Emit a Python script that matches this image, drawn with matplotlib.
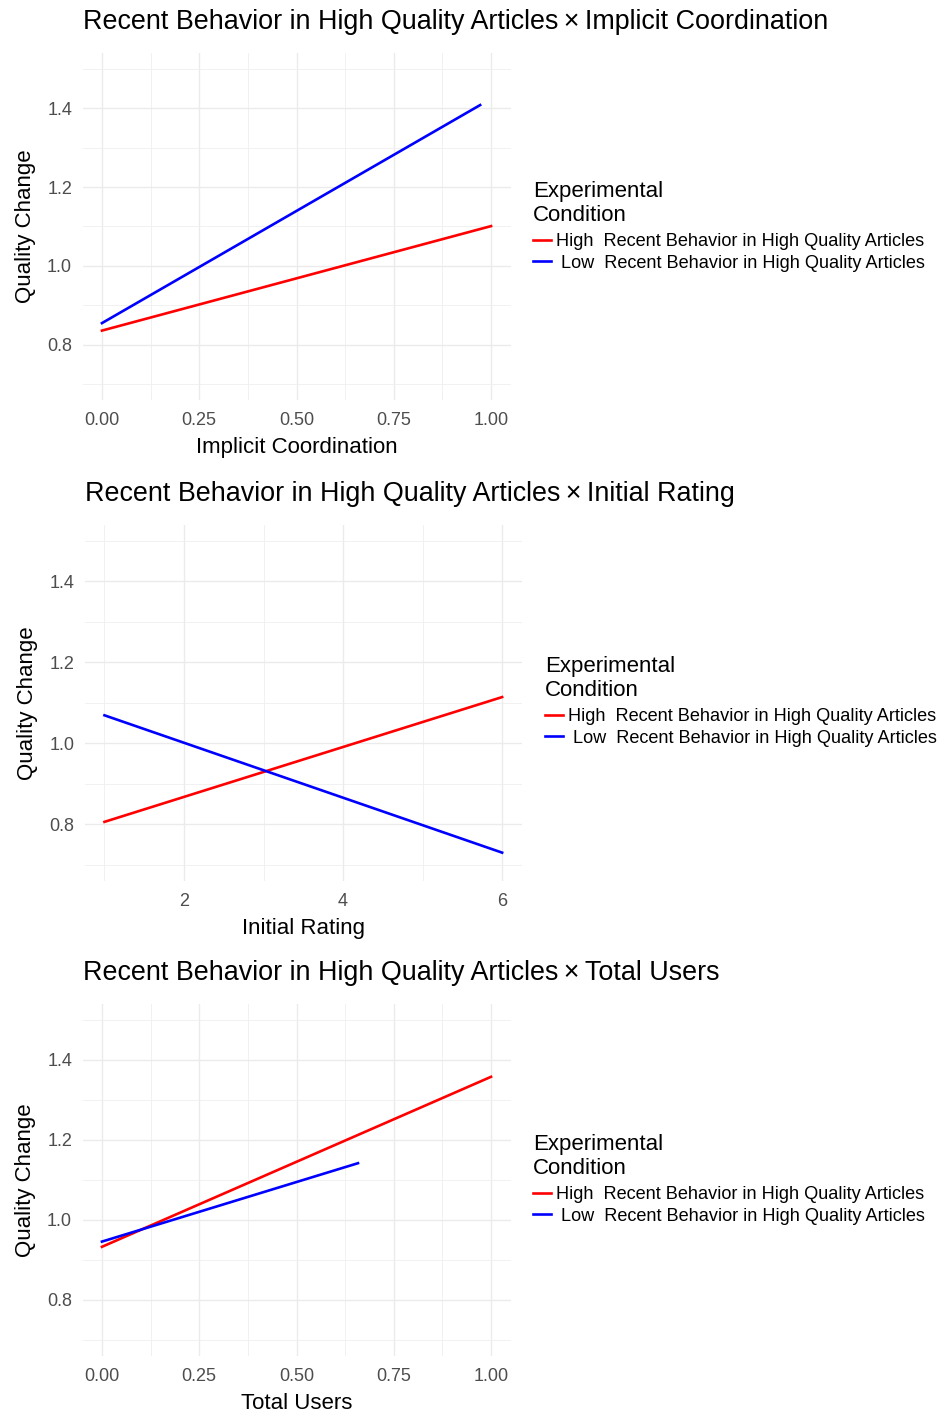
import matplotlib
matplotlib.use("Agg")
import matplotlib.pyplot as plt
from matplotlib.ticker import MultipleLocator

plt.rcParams['font.family'] = ['Liberation Sans', 'DejaVu Sans']

# predicted lines (two end points each)
impl_x_high = [0.0, 1.0]
impl_y_high = [0.836, 1.101]
impl_x_low = [0.0, 0.972]
impl_y_low = [0.855, 1.408]

rating_x_high = [1, 6]
rating_y_high = [0.806, 1.114]
rating_x_low = [1, 6]
rating_y_low = [1.069, 0.730]

users_x_high = [0.0, 1.0]
users_y_high = [0.933, 1.358]
users_x_low = [0.0, 0.658]
users_y_low = [0.946, 1.142]

moderator = ["Implicit Coordination", "Initial Rating", "Total Users"]
cond_labels = ["High  Recent Behavior in High Quality Articles",
               " Low  Recent Behavior in High Quality Articles"]
cond_colors = ["#FF0000", "#0000FF"]
y_ticks = [0.8, 1.0, 1.2, 1.4]
x_ticks_unit = [0.0, 0.25, 0.5, 0.75, 1.0]
x_ticks_rating = [2, 4, 6]

W, H = 947, 1414
fig = plt.figure(figsize=(W / 100, H / 100), dpi=100)


def add_panel(left, right, top, bottom):
    return fig.add_axes([left / W, 1 - bottom / H, (right - left) / W, (bottom - top) / H])


def style(ax, xticks, xfmt, xminor, title, xlabel, legend_xy):
    ax.set_ylim(0.66, 1.54)
    ax.set_yticks(y_ticks)
    ax.set_yticklabels(["%.1f" % v for v in y_ticks])
    ax.yaxis.set_minor_locator(MultipleLocator(0.1))
    ax.set_xticks(xticks)
    ax.set_xticklabels([xfmt % v for v in xticks])
    ax.xaxis.set_minor_locator(MultipleLocator(xminor))
    for s in ax.spines.values():
        s.set_visible(False)
    ax.grid(which="major", color="#EBEBEB", lw=1.0)
    ax.grid(which="minor", color="#EFEFEF", lw=0.6)
    ax.set_axisbelow(True)
    ax.tick_params(which="both", length=0, labelsize=13, labelcolor="#4D4D4D")
    ax.tick_params(axis="y", pad=7.5)
    ax.tick_params(axis="x", pad=8.5)
    ax.set_xlabel(xlabel, fontsize=16, labelpad=6)
    ax.set_ylabel("Quality Change", fontsize=16, labelpad=8)
    ax.set_title(title, loc="left", fontsize=19.4, pad=17)
    leg = ax.legend(loc="upper left", bbox_to_anchor=(legend_xy[0] / W, 1 - legend_xy[1] / H),
                    bbox_transform=fig.transFigure, frameon=False, borderpad=0,
                    title="Experimental\nCondition", title_fontsize=16, fontsize=13.05,
                    alignment="left", handlelength=1.0, handletextpad=0.25,
                    labelspacing=0.25, borderaxespad=0)
    leg._legend_box.sep = 5
    return leg


ttl = "Recent Behavior in High Quality Articles\u2009\u00d7\u2009"

# panel 1
ax1 = add_panel(82.5, 510.5, 53, 400)
ax1.plot(impl_x_high, impl_y_high, color=cond_colors[0], lw=1.9, label=cond_labels[0])
ax1.plot(impl_x_low, impl_y_low, color=cond_colors[1], lw=1.9, label=cond_labels[1])
ax1.set_xlim(-0.05, 1.05)
style(ax1, x_ticks_unit, "%.2f", 0.125, ttl + moderator[0], moderator[0], (533, 181))

# panel 2
ax2 = add_panel(84.6, 522, 524.5, 881)
ax2.plot(rating_x_high, rating_y_high, color=cond_colors[0], lw=1.9, label=cond_labels[0])
ax2.plot(rating_x_low, rating_y_low, color=cond_colors[1], lw=1.9, label=cond_labels[1])
ax2.set_xlim(0.75, 6.25)
style(ax2, x_ticks_rating, "%d", 1, ttl + moderator[1], moderator[1], (545, 656))

# panel 3
ax3 = add_panel(82.5, 510.5, 1004, 1356)
ax3.plot(users_x_high, users_y_high, color=cond_colors[0], lw=1.9, label=cond_labels[0])
ax3.plot(users_x_low, users_y_low, color=cond_colors[1], lw=1.9, label=cond_labels[1])
ax3.set_xlim(-0.05, 1.05)
style(ax3, x_ticks_unit, "%.2f", 0.125, ttl + moderator[2], moderator[2], (533, 1134))

fig.savefig("out.png", dpi=100, facecolor="white")
